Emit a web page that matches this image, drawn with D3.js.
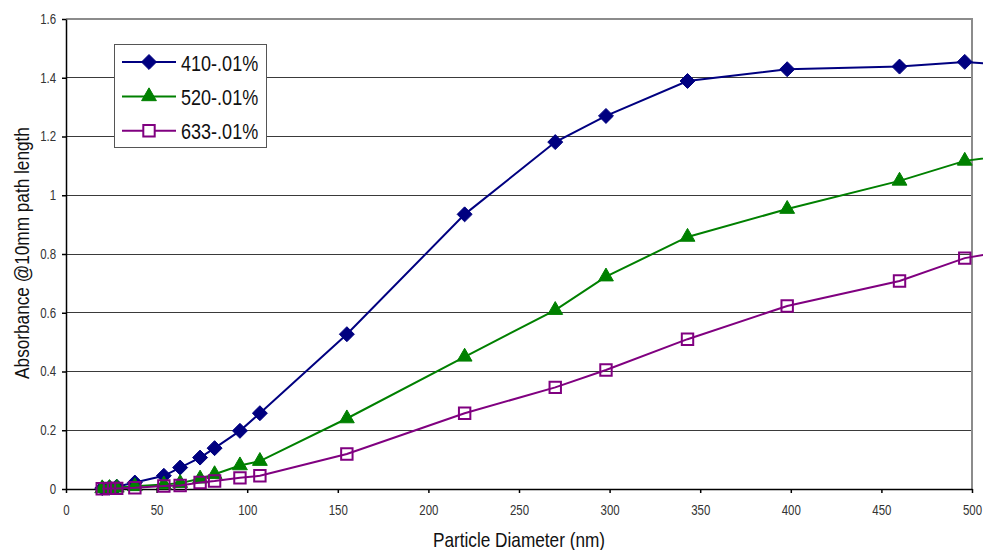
<!DOCTYPE html>
<html>
<head>
<meta charset="utf-8">
<script src="https://cdn.jsdelivr.net/npm/d3@7"></script>
<style>
  html, body { margin: 0; padding: 0; background: #fff; }
  svg { display: block; font-family: "Liberation Sans", Arial, sans-serif; }
</style>
</head>
<body>
<div id="chart"></div>
<script>
// particle diameter (nm) for every measurement
const diameters = [20, 24, 28, 38, 54, 63, 74, 82, 96, 107, 155, 220, 270, 298, 343, 398, 460, 496, 560];

// absorbance per wavelength, 0.01% concentration
const abs410 = [0.003, 0.005, 0.008, 0.022, 0.045, 0.073, 0.107, 0.139, 0.198, 0.258, 0.527, 0.935, 1.181, 1.27, 1.389, 1.429, 1.438, 1.454, 1.425];
const abs520 = [0.002, 0.003, 0.004, 0.009, 0.015, 0.02, 0.035, 0.05, 0.08, 0.095, 0.24, 0.45, 0.609, 0.723, 0.858, 0.953, 1.049, 1.117, 1.168];
const abs633 = [0.001, 0.002, 0.002, 0.004, 0.01, 0.012, 0.022, 0.027, 0.038, 0.045, 0.119, 0.258, 0.346, 0.405, 0.51, 0.623, 0.708, 0.786, 0.851];

const seriesNames = ["410-.01%", "520-.01%", "633-.01%"];
const xTicks = [0, 50, 100, 150, 200, 250, 300, 350, 400, 450, 500];
const yTicks = [0, 0.2, 0.4, 0.6, 0.8, 1, 1.2, 1.4, 1.6];

// no narrow font is installed, so text is squeezed horizontally instead
const NARROW = 0.82;

// Excel-style diamond: a square turned 45 degrees
const diamond = {
  draw(ctx, size) {
    const r = Math.sqrt(size / 2);
    ctx.moveTo(0, -r); ctx.lineTo(r, 0); ctx.lineTo(0, r); ctx.lineTo(-r, 0); ctx.closePath();
  }
};

const series = [
  { name: seriesNames[0], values: abs410, color: "#000080", symbol: diamond, fill: true, size: 112 },
  { name: seriesNames[1], values: abs520, color: "#008000", symbol: d3.symbolTriangle, fill: true, size: 95 },
  { name: seriesNames[2], values: abs633, color: "#800080", symbol: d3.symbolSquare, fill: false, size: 130 },
];

const width = 983, height = 550;
const m = { top: 19, right: 11, bottom: 61, left: 66 };

const svg = d3.select("#chart").append("svg")
  .attr("width", width).attr("height", height);

const x = d3.scaleLinear().domain([0, 500]).range([m.left, width - m.right]);
const y = d3.scaleLinear().domain([0, 1.6]).range([height - m.bottom, m.top]);

// gridlines
svg.append("g")
  .selectAll("line")
  .data(yTicks.filter((d) => d > 0 && d < 1.6))
  .join("line")
  .attr("x1", x(0)).attr("x2", x(500))
  .attr("y1", (d) => y(d)).attr("y2", (d) => y(d))
  .attr("stroke", "#3a3a3a").attr("stroke-width", 1)
  .attr("shape-rendering", "crispEdges");

// plot-area frame: gray top and right edges
svg.append("path")
  .attr("d", `M${x(0)},${y(1.6)}H${x(500)}V${y(0)}`)
  .attr("fill", "none").attr("stroke", "#8c8c8c").attr("stroke-width", 2)
  .attr("shape-rendering", "crispEdges");

// axes
svg.append("g")
  .attr("transform", `translate(${m.left},0)`)
  .call(d3.axisLeft(y).tickValues(yTicks).tickFormat(d3.format("~g")).tickSize(4).tickSizeOuter(0).tickPadding(8))
  .call((g) => g.selectAll("line, path").attr("stroke", "#000").attr("stroke-width", 1.5))
  .selectAll("text").attr("fill", "#333").style("font-size", "14px")
  .attr("transform", `scale(${NARROW},1)`);

svg.append("g")
  .attr("transform", `translate(0,${height - m.bottom})`)
  .call(d3.axisBottom(x).tickValues(xTicks).tickSize(4).tickSizeOuter(0).tickPadding(12))
  .call((g) => g.selectAll("line, path").attr("stroke", "#000").attr("stroke-width", 1.5))
  .selectAll("text").attr("fill", "#333").style("font-size", "14px")
  .attr("transform", `scale(${NARROW},1)`);

// axis titles
svg.append("text")
  .attr("transform", `translate(${(x(0) + x(500)) / 2},${height - 3}) scale(${NARROW},1)`)
  .attr("text-anchor", "middle").attr("fill", "#111").style("font-size", "21px")
  .text("Particle Diameter (nm)");

svg.append("text")
  .attr("transform", `translate(29,253) rotate(-90) scale(${NARROW},1)`)
  .attr("text-anchor", "middle").attr("fill", "#111").style("font-size", "21px")
  .text("Absorbance @10mm path length");

// lines and markers (not clipped: the last point runs past the frame)
const line = d3.line().x((d, i) => x(diameters[i])).y((d) => y(d));

for (const s of series) {
  svg.append("path")
    .datum(s.values)
    .attr("fill", "none")
    .attr("stroke", s.color)
    .attr("stroke-width", 2)
    .attr("d", line);
  svg.append("g")
    .selectAll("path")
    .data(s.values)
    .join("path")
    .attr("transform", (d, i) => `translate(${x(diameters[i])},${y(d)})`)
    .attr("d", d3.symbol(s.symbol, s.size))
    .attr("fill", s.fill ? s.color : "none")
    .attr("stroke", s.color)
    .attr("stroke-width", s.fill ? 1 : 2);
}

// legend
const lg = svg.append("g").attr("transform", "translate(114,44)");
lg.append("rect")
  .attr("x", 0.5).attr("y", 0.5).attr("width", 152).attr("height", 103)
  .attr("fill", "#fff").attr("stroke", "#555").attr("stroke-width", 1);

series.forEach((s, i) => {
  const cy = 18 + i * 34.4;
  lg.append("line")
    .attr("x1", 8).attr("x2", 62).attr("y1", cy).attr("y2", cy)
    .attr("stroke", s.color).attr("stroke-width", 2);
  lg.append("path")
    .attr("transform", `translate(35,${cy})`)
    .attr("d", d3.symbol(s.symbol, s.size))
    .attr("fill", s.fill ? s.color : "#fff")
    .attr("stroke", s.color)
    .attr("stroke-width", s.fill ? 1 : 2);
  lg.append("text")
    .attr("transform", `translate(67,${cy + 8.5}) scale(${NARROW},1)`)
    .attr("fill", "#111").style("font-size", "22px")
    .text(s.name);
});
</script>
</body>
</html>
